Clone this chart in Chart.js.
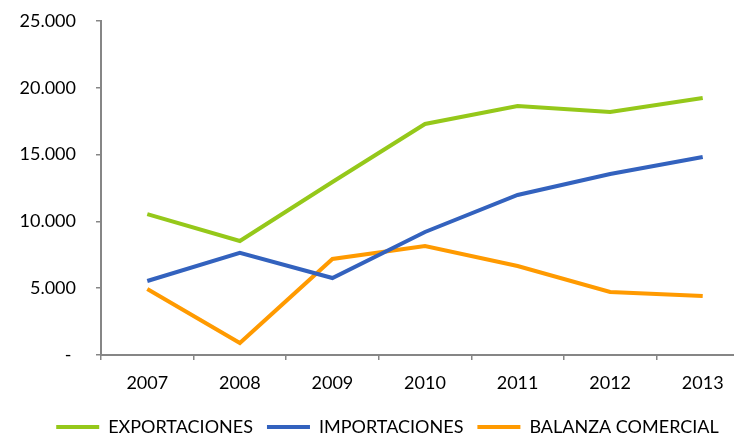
<!DOCTYPE html>
<html>
<head>
<meta charset="utf-8">
<script src="https://cdn.jsdelivr.net/npm/chart.js@4/dist/chart.umd.min.js"></script>
<style>
  html, body { margin: 0; padding: 0; background: #fff; overflow: hidden; }
  #wrap { width: 734px; height: 435px; overflow: hidden; }
  #box { width: 776px; height: 446px; }
</style>
</head>
<body>
<div id="wrap"><div id="box"><canvas id="myChart"></canvas></div></div>
<script>
// datos del gráfico
const years = ["2007", "2008", "2009", "2010", "2011", "2012", "2013"];
const exportaciones = [10550, 8530, 12950, 17290, 18640, 18190, 19240];
const importaciones = [5540, 7640, 5760, 9210, 11980, 13550, 14820];
const balanza = [4940, 900, 7190, 8160, 6660, 4720, 4420];
const yTicks = [0, 5000, 10000, 15000, 20000, 25000];

const gris = "#868686";
const fuente = "Lato";

function fmt(v) {
  if (v === 0) return "- ";
  return String(v).replace(/\B(?=(\d{3})+(?!\d))/g, ".");
}

function serie(label, data, color) {
  return {
    label: label,
    data: data,
    borderColor: color,
    backgroundColor: color,
    borderWidth: 4,
    pointRadius: 0,
    tension: 0,
    fill: false
  };
}

// mover la leyenda un poco a la derecha, como en el original
const moverLeyenda = {
  id: "moverLeyenda",
  afterLayout(chart) {
    chart.legend.left += 13;
    chart.legend.right += 13;
  }
};

new Chart("myChart", {
  type: "line",
  data: {
    labels: years,
    datasets: [
      serie("EXPORTACIONES", exportaciones, "#95C81A"),
      serie("IMPORTACIONES", importaciones, "#3362BE"),
      serie("BALANZA COMERCIAL", balanza, "#FF9A00")
    ]
  },
  plugins: [moverLeyenda],
  options: {
    responsive: true,
    maintainAspectRatio: false,
    animation: false,
    layout: { padding: { top: 21, right: 27, left: 0, bottom: 0 } },
    plugins: {
      tooltip: { enabled: false },
      legend: {
        position: "bottom",
        labels: {
          color: "#000",
          font: { family: fuente, size: 18 },
          boxWidth: 43,
          boxHeight: 4,
          padding: 14,
          generateLabels: chart =>
            Chart.defaults.plugins.legend.labels.generateLabels(chart)
              .map(l => ({ ...l, lineWidth: 0, fillStyle: l.strokeStyle }))
        }
      }
    },
    scales: {
      x: {
        offset: true,
        grid: { offset: true, drawOnChartArea: false, tickLength: 5, tickColor: gris, lineWidth: 1.5 },
        border: { color: gris, width: 2 },
        ticks: { color: "#000", font: { family: fuente, size: 18 }, padding: 12, maxRotation: 0 },
        afterFit: s => { s.height = 49; }
      },
      y: {
        min: 0,
        max: 25000,
        afterBuildTicks: s => { s.ticks = yTicks.map(v => ({ value: v })); },
        grid: { drawOnChartArea: false, tickLength: 5, tickColor: gris, lineWidth: 1.5 },
        border: { color: gris, width: 2 },
        ticks: {
          color: "#000",
          font: { family: fuente, size: 18 },
          padding: 20,
          callback: v => fmt(v)
        },
        afterFit: s => { s.width = 101; s.paddingTop = 0; s.paddingBottom = 0; }
      }
    }
  }
});
</script>
</body>
</html>
